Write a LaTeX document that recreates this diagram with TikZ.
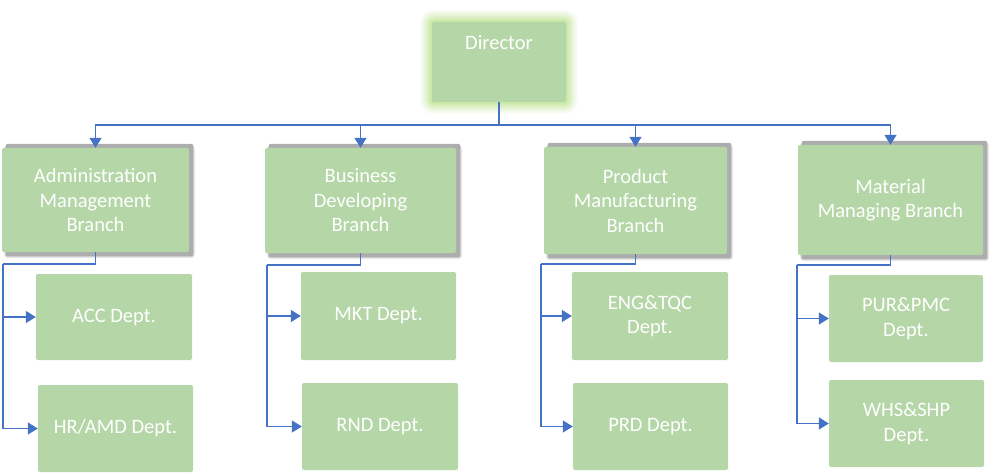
\documentclass[tikz,border=0pt]{standalone}
\usepackage{fontspec}
\setmainfont{Carlito}
\usetikzlibrary{arrows.meta,calc}
\definecolor{boxgreen}{HTML}{B5D6A7}
\definecolor{glowgreen}{HTML}{C2E69A}
\definecolor{linkblue}{HTML}{4472C4}
\pgfdeclarelayer{background}
\pgfsetlayers{background,main}
\tikzset{
  box/.style={fill=boxgreen, draw=none, rounded corners=2pt, text=white, align=center,
    font=\fontsize{20.5}{24.5}\selectfont, inner sep=0pt},
  branchbox/.style={box},
  deptbox/.style={box},
  link/.style={draw=linkblue, line width=1.4pt, arrows={-Triangle[width=12pt,length=10pt]}},
  plainlink/.style={draw=linkblue, line width=1.4pt},
}
\newcommand{\myshadow}[1]{%
  \begin{pgfonlayer}{background}
  \fill[black!8, rounded corners=4pt] ($(#1.south west)+(2,6)$) rectangle ($(#1.north east)+(6,-2)$);
  \fill[black!18, rounded corners=3pt] ($(#1.south west)+(3,5)$) rectangle ($(#1.north east)+(5,-3)$);
  \fill[black!32, rounded corners=2pt] ($(#1.south west)+(4,4)$) rectangle ($(#1.north east)+(4,-4)$);
  \end{pgfonlayer}}
\begin{document}
\begin{tikzpicture}[x=1pt,y=-1pt]
\useasboundingbox (0,0) rectangle (1000,473);
% Director
\node[box, minimum width=134pt, minimum height=80pt] (dir) at (499,62) {};
\node[text=white, font=\fontsize{20.5}{24.5}\selectfont, anchor=base] (dirtext) at (499,50) {Director};
\begin{pgfonlayer}{background}
\foreach \i/\c in {12/6,11/12,10/18,9/25,8/32,7/40,6/48,5/56,4/64,3/72,2/80,1/88}
  \fill[glowgreen!\c!white, rounded corners=\i pt+2pt]
    ($(dir.south west)+(-\i,\i)$) rectangle ($(dir.north east)+(\i,-\i)$);
\end{pgfonlayer}
% Branches
\node[branchbox, minimum width=187pt, minimum height=104pt] (adm) at (95.5,200) {Administration\\Management\\Branch};
\node[branchbox, minimum width=191pt, minimum height=105pt] (bus) at (360.5,200.5) {Business\\Developing\\Branch};
\node[branchbox, minimum width=183pt, minimum height=107pt] (prod) at (635.5,200.5) {Product\\Manufacturing\\Branch};
\node[branchbox, minimum width=185pt, minimum height=110pt] (mat) at (890.5,200) {Material\\Managing Branch};
\myshadow{adm}\myshadow{bus}\myshadow{prod}\myshadow{mat}
% Departments
\node[deptbox, minimum width=156pt, minimum height=86pt] (acc) at (114,317) {ACC Dept.};
\node[deptbox, minimum width=155pt, minimum height=87pt] (hr) at (115.5,428.5) {HR/AMD Dept.};
\node[deptbox, minimum width=155pt, minimum height=88pt] (mkt) at (378.5,316) {MKT Dept.};
\node[deptbox, minimum width=156pt, minimum height=87pt] (rnd) at (380,426.5) {RND Dept.};
\node[deptbox, minimum width=156pt, minimum height=88pt] (eng) at (650,316) {ENG\&TQC\\Dept.};
\node[deptbox, minimum width=155pt, minimum height=87pt] (prd) at (650.5,426.5) {PRD Dept.};
\node[deptbox, minimum width=154pt, minimum height=87pt] (pur) at (906,318.5) {PUR\&PMC\\Dept.};
\node[deptbox, minimum width=155pt, minimum height=87pt] (whs) at (906.5,423.5) {WHS\&SHP\\Dept.};
% Top connectors
\coordinate (hub) at (499,125);
\draw[plainlink] (dir.south) -- (hub);
\draw[link] (hub) -| (adm.north);
\draw[link] (hub) -| (bus.north);
\draw[link] (hub) -| (prod.north);
\draw[link] (hub) -| (mat.north);
% Sub connectors
\coordinate (aL) at (3,264);
\draw[plainlink] (adm.south) |- (aL);
\draw[link] (aL) |- (acc.west);
\draw[link] (aL) |- (hr.west);
\coordinate (bL) at (267,265);
\draw[plainlink] (bus.south) |- (bL);
\draw[link] (bL) |- (mkt.west);
\draw[link] (bL) |- (rnd.west);
\coordinate (pL) at (541,264);
\draw[plainlink] (prod.south) |- (pL);
\draw[link] (pL) |- (eng.west);
\draw[link] (pL) |- (prd.west);
\coordinate (mL) at (797,265);
\draw[plainlink] (mat.south) |- (mL);
\draw[link] (mL) |- (pur.west);
\draw[link] (mL) |- (whs.west);
\end{tikzpicture}
\end{document}
